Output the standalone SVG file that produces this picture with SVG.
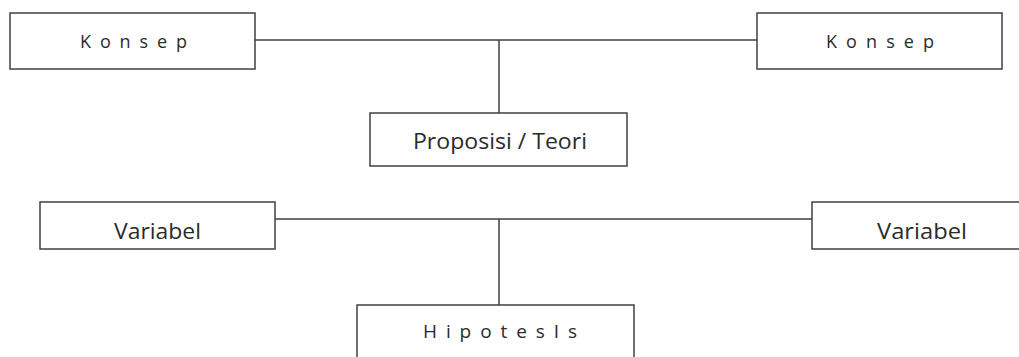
<svg xmlns="http://www.w3.org/2000/svg" width="1019" height="357" viewBox="0 0 1019 357">
<style>
.box{fill:#fff;stroke:#404040;stroke-width:1.5}
.ln{fill:none;stroke:#404040;stroke-width:1.5}
text{font-family:"Open Sans","Liberation Sans",sans-serif;fill:#2b2b2b;font-weight:400}
.k{font-size:18px}
.p{font-size:22px}
.v{font-size:21px}
.h{font-size:19px}
</style>
<rect width="1019" height="357" fill="#fff"/>
<g id="connectors">
<path class="ln" d="M255 40H758M499 40V113"/>
<path class="ln" d="M272 219H812M499 219V305"/>
</g>
<g id="konsep-left">
<rect class="box" x="10" y="13" width="245" height="56"/>
<text class="k" x="80" y="47.5" textLength="107" lengthAdjust="spacing">Konsep</text>
</g>
<g id="konsep-right">
<rect class="box" x="757" y="13" width="245" height="56"/>
<text class="k" x="826" y="47.5" textLength="108" lengthAdjust="spacing">Konsep</text>
</g>
<g id="proposisi">
<rect class="box" x="370" y="113" width="257" height="53"/>
<text class="p" x="413" y="149" textLength="174" lengthAdjust="spacingAndGlyphs">Proposisi / Teori</text>
</g>
<g id="variabel-left">
<rect class="box" x="40" y="202" width="235" height="47"/>
<text class="v" x="114" y="239" textLength="87" lengthAdjust="spacingAndGlyphs">Variabel</text>
</g>
<g id="variabel-right">
<path class="box" d="M1021 202H812V249H1021"/>
<text class="v" x="877" y="239" textLength="90" lengthAdjust="spacingAndGlyphs">Variabel</text>
</g>
<g id="hipotesis">
<path class="box" d="M357 360V305H634V360"/>
<text class="h" x="423" y="338" textLength="154" lengthAdjust="spacing">HipotesIs</text>
</g>
</svg>
